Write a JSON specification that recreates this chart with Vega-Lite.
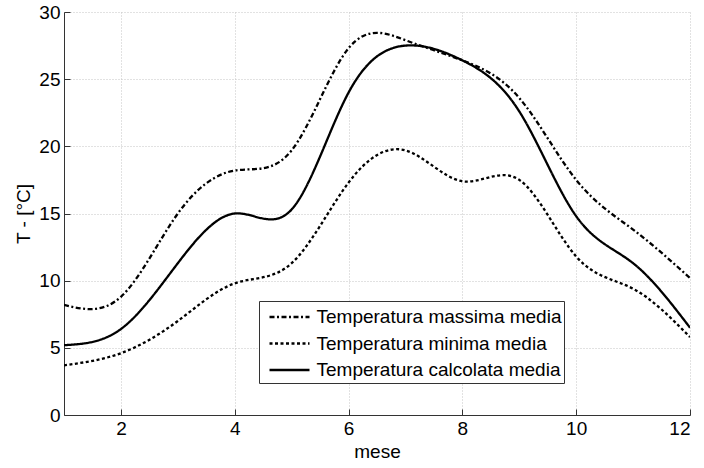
{
  "$schema": "https://vega.github.io/schema/vega-lite/v6.json",
  "autosize": "none",
  "width": 626,
  "height": 403,
  "padding": {"left": 64, "top": 12, "right": 14, "bottom": 53},
  "background": "white",
  "config": {
    "font": "Liberation Sans",
    "view": {"stroke": null},
    "axis": {
      "domainColor": "#333333",
      "domainWidth": 1,
      "tickColor": "#333333",
      "tickSize": -6,
      "labelPadding": 10,
      "labelFontSize": 19,
      "labelColor": "black",
      "titleFontSize": 19,
      "titleFontWeight": "normal",
      "titleColor": "black",
      "grid": true,
      "gridColor": "#c4c4c4",
      "gridDash": [1, 2],
      "gridWidth": 1
    }
  },
  "data": {
    "values": [
      {"mese": 1, "T": 8.2, "serie": "Temperatura massima media"},
      {"mese": 2, "T": 8.8, "serie": "Temperatura massima media"},
      {"mese": 3, "T": 15.0, "serie": "Temperatura massima media"},
      {"mese": 4, "T": 18.2, "serie": "Temperatura massima media"},
      {"mese": 5, "T": 19.7, "serie": "Temperatura massima media"},
      {"mese": 6, "T": 27.3, "serie": "Temperatura massima media"},
      {"mese": 7, "T": 27.9, "serie": "Temperatura massima media"},
      {"mese": 8, "T": 26.4, "serie": "Temperatura massima media"},
      {"mese": 9, "T": 23.6, "serie": "Temperatura massima media"},
      {"mese": 10, "T": 17.5, "serie": "Temperatura massima media"},
      {"mese": 11, "T": 13.8, "serie": "Temperatura massima media"},
      {"mese": 12, "T": 10.2, "serie": "Temperatura massima media"},
      {"mese": 1, "T": 3.7, "serie": "Temperatura minima media"},
      {"mese": 2, "T": 4.6, "serie": "Temperatura minima media"},
      {"mese": 3, "T": 7.0, "serie": "Temperatura minima media"},
      {"mese": 4, "T": 9.8, "serie": "Temperatura minima media"},
      {"mese": 5, "T": 11.3, "serie": "Temperatura minima media"},
      {"mese": 6, "T": 17.3, "serie": "Temperatura minima media"},
      {"mese": 7, "T": 19.7, "serie": "Temperatura minima media"},
      {"mese": 8, "T": 17.4, "serie": "Temperatura minima media"},
      {"mese": 9, "T": 17.5, "serie": "Temperatura minima media"},
      {"mese": 10, "T": 11.8, "serie": "Temperatura minima media"},
      {"mese": 11, "T": 9.4, "serie": "Temperatura minima media"},
      {"mese": 12, "T": 5.8, "serie": "Temperatura minima media"},
      {"mese": 1, "T": 5.2, "serie": "Temperatura calcolata media"},
      {"mese": 2, "T": 6.4, "serie": "Temperatura calcolata media"},
      {"mese": 3, "T": 11.3, "serie": "Temperatura calcolata media"},
      {"mese": 4, "T": 15.0, "serie": "Temperatura calcolata media"},
      {"mese": 5, "T": 15.3, "serie": "Temperatura calcolata media"},
      {"mese": 6, "T": 24.0, "serie": "Temperatura calcolata media"},
      {"mese": 7, "T": 27.5, "serie": "Temperatura calcolata media"},
      {"mese": 8, "T": 26.4, "serie": "Temperatura calcolata media"},
      {"mese": 9, "T": 22.6, "serie": "Temperatura calcolata media"},
      {"mese": 10, "T": 14.8, "serie": "Temperatura calcolata media"},
      {"mese": 11, "T": 11.3, "serie": "Temperatura calcolata media"},
      {"mese": 12, "T": 6.5, "serie": "Temperatura calcolata media"}
    ]
  },
  "mark": {"type": "line", "interpolate": "natural", "color": "black", "clip": true},
  "encoding": {
    "x": {
      "field": "mese",
      "type": "quantitative",
      "scale": {"domain": [1, 12], "nice": false, "zero": false},
      "axis": {"values": [2, 4, 6, 8, 10, 12], "title": "mese", "titlePadding": 4}
    },
    "y": {
      "field": "T",
      "type": "quantitative",
      "scale": {"domain": [0, 30], "nice": false},
      "axis": {"values": [0, 5, 10, 15, 20, 25, 30], "title": "T - [°C]", "titlePadding": 5}
    },
    "strokeDash": {
      "field": "serie",
      "type": "nominal",
      "scale": {
        "domain": ["Temperatura massima media", "Temperatura minima media", "Temperatura calcolata media"],
        "range": [[5, 2.5, 2, 2.5], [3, 2.5], [1, 0]]
      },
      "legend": {
        "title": null,
        "orient": "none",
        "legendX": 195,
        "legendY": 289,
        "strokeColor": "#333333",
        "fillColor": "white",
        "padding": 2.5,
        "symbolType": "M-0.458,0H2.875",
        "symbolSize": 576,
        "symbolStrokeColor": "black",
        "symbolStrokeWidth": 2,
        "labelFontSize": 19,
        "labelColor": "black",
        "labelOffset": 28,
        "rowPadding": 2.5,
        "labelLimit": 400
      }
    },
    "strokeWidth": {
      "field": "serie",
      "type": "nominal",
      "scale": {
        "domain": ["Temperatura massima media", "Temperatura minima media", "Temperatura calcolata media"],
        "range": [2.3, 2.3, 2.7]
      },
      "legend": null
    }
  }
}
